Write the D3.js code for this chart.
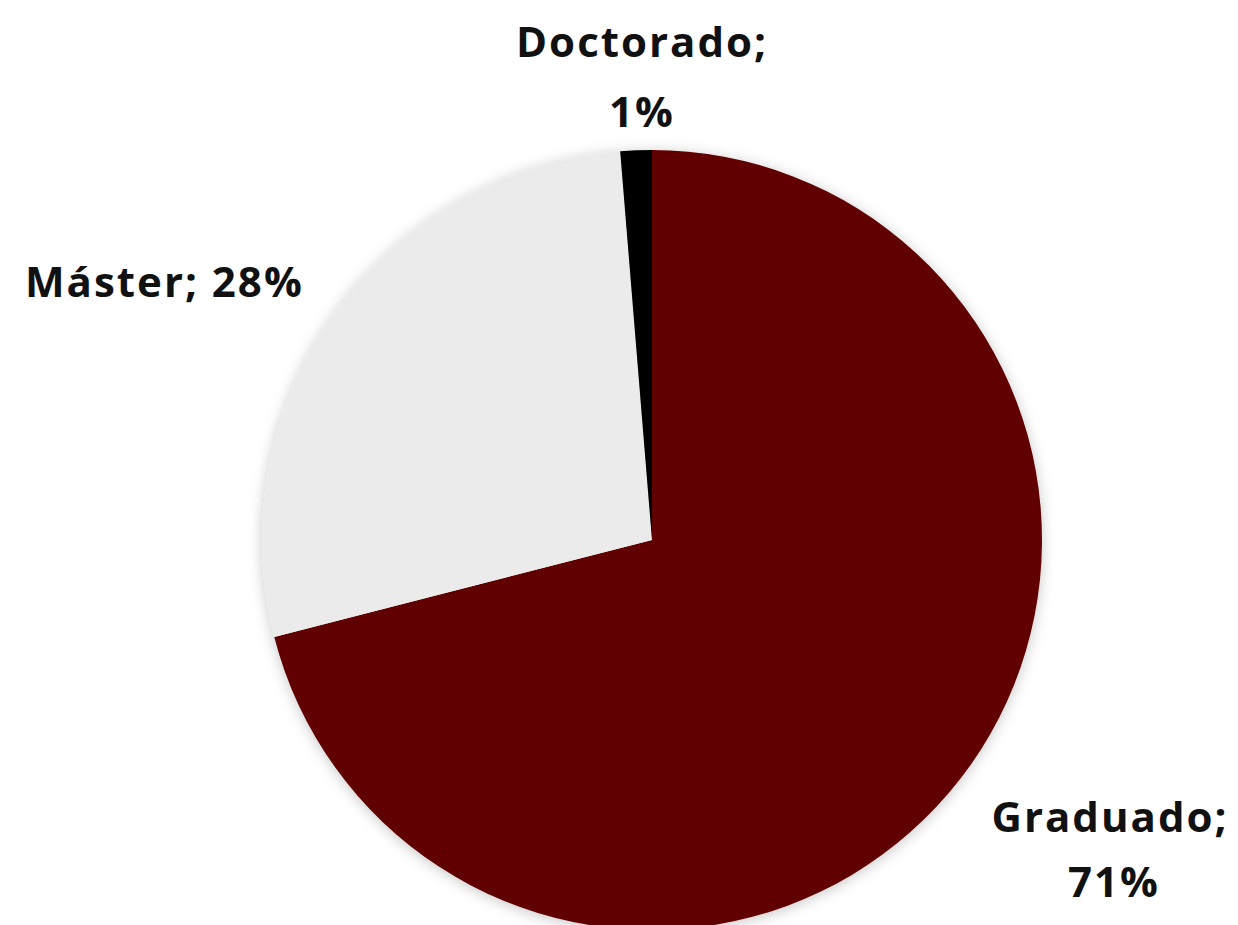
<!DOCTYPE html>
<html><head><meta charset="utf-8">
<script src="https://cdn.jsdelivr.net/npm/d3@7"></script>
<style>body{margin:0;background:#fff;}svg{display:block;}</style>
</head><body>
<script>
const categories = ["Graduado", "Máster", "Doctorado"];
const values = [71.0, 27.7, 1.3];
const labels = ["71%", "28%", "1%"];
const colors = ["#600000", "#ebebeb", "#000000"];

const W = 1238, H = 925;
const cx = 652, cy = 540, R = 390;
const svg = d3.select("body").append("svg").attr("width", W).attr("height", H);
const defs = svg.append("defs");
const f = defs.append("filter").attr("id","sh").attr("x","-20%").attr("y","-20%").attr("width","140%").attr("height","140%");
f.append("feDropShadow").attr("dx",0).attr("dy",2).attr("stdDeviation",7).attr("flood-color","#000").attr("flood-opacity",0.22);

const data = categories.map((c,i)=>({cat:c, value:values[i], label:labels[i], color:colors[i]}));
const pie = d3.pie().value(d=>d.value).sort(null);
const arc = d3.arc().innerRadius(0).outerRadius(R);
const g = svg.append("g").attr("transform",`translate(${cx},${cy})`);
g.append("g").attr("filter","url(#sh)").selectAll("path").data(pie(data)).join("path")
  .attr("d",arc).attr("fill",d=>d.data.color);

const font = "'Open Sans', Roboto, sans-serif";
const txt = (x,y,s,anchor)=>svg.append("text").attr("x",x).attr("y",y).attr("text-anchor",anchor||"middle")
  .attr("font-family",font).attr("font-weight","bold").attr("font-size",42).attr("letter-spacing",2)
  .attr("fill","#111111").text(s);

txt(642,57, data[2].cat+";");
txt(642,127, data[2].label);
txt(25,297, data[1].cat+"; "+data[1].label, "start");
txt(1110,832, data[0].cat+";");
txt(1114,897, data[0].label);
</script>
</body></html>
